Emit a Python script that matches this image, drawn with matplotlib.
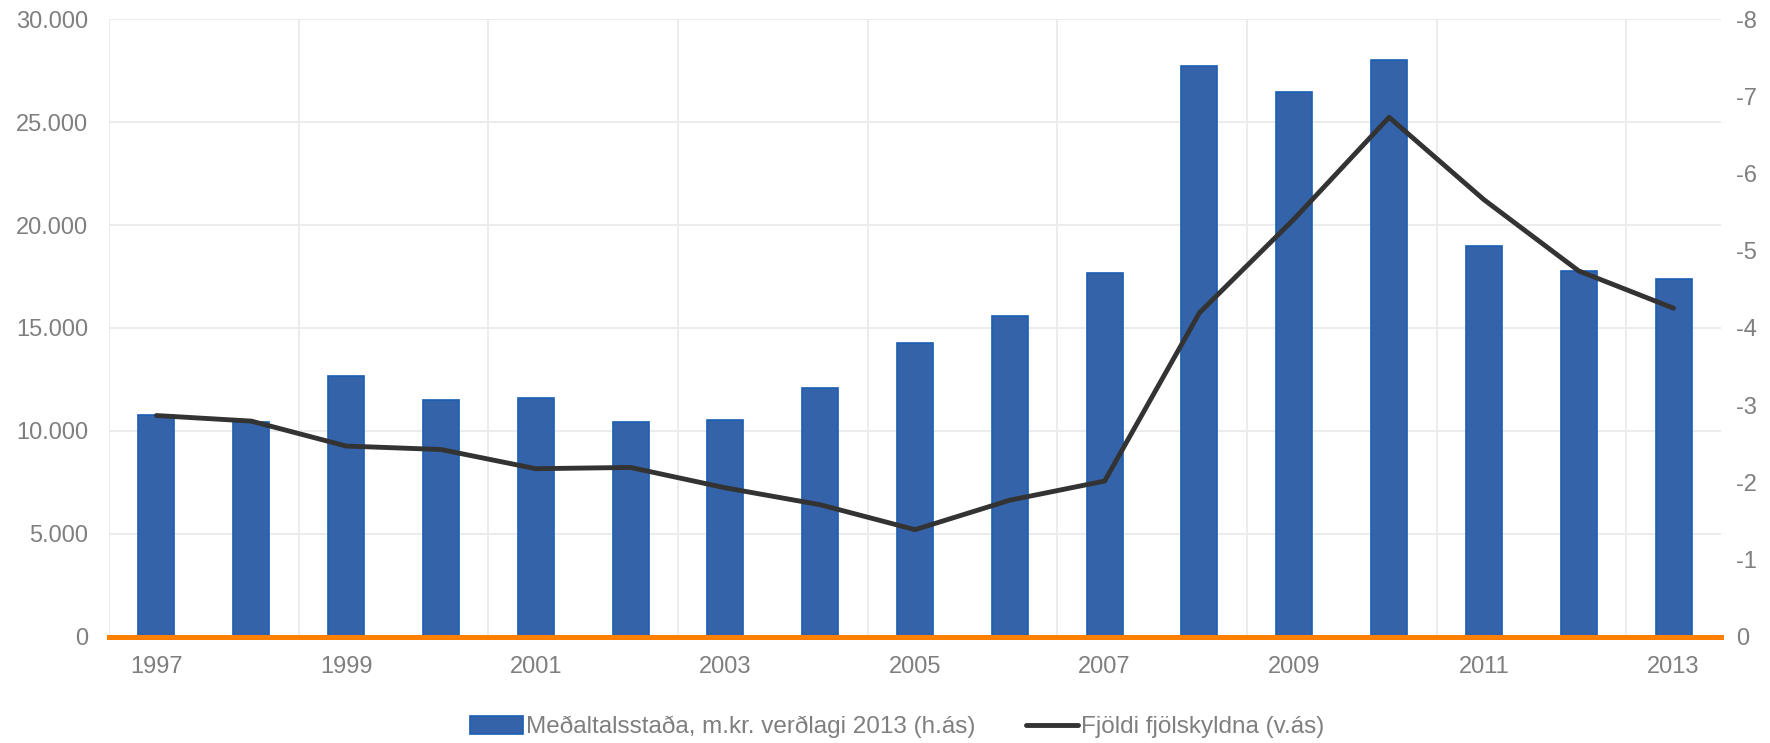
import numpy as np
import matplotlib
matplotlib.use("Agg")
import matplotlib.pyplot as plt
from matplotlib.ticker import FuncFormatter

plt.rcParams['font.family'] = ['Liberation Sans', 'DejaVu Sans']
plt.rcParams['axes.unicode_minus'] = False

years = list(range(1997, 2014))
# Meðaltalsstaða, m.kr. verðlagi 2013 (h.ás)
stada = [-2.87, -2.78, -3.38, -3.07, -3.09, -2.78, -2.81, -3.22, -3.80,
         -4.15, -4.71, -7.39, -7.06, -7.47, -5.06, -4.74, -4.64]
# Fjöldi fjölskyldna (v.ás)
fjoldi = [10750, 10480, 9270, 9100, 8170, 8230, 7240, 6420, 5210,
          6640, 7570, 15740, 20300, 25230, 21230, 17770, 15960]

bar_label = "Meðaltalsstaða, m.kr. verðlagi 2013 (h.ás)"
line_label = "Fjöldi fjölskyldna (v.ás)"

grey = "#7f7f7f"
gridc = "#ececec"
x = np.arange(len(years))

fig = plt.figure(figsize=(17.7, 7.43), dpi=100)
ax = fig.add_axes([0.0616, 0.1427, 0.9107, 0.8317])
ax2 = ax.twinx()

# gridlines on the lower (bar) axis so they stay behind the bars
for k in range(7):
    ax2.axhline(-8 / 6 * k, color=gridc, linewidth=1.4, zorder=0)
for k in np.arange(-0.5, len(years), 2):
    ax2.axvline(k, color=gridc, linewidth=1.4, zorder=0)

# bars on the right (inverted) axis
bars = ax2.bar(x, stada, width=0.38, color="#3463a9", edgecolor="#1a5fb4",
               linewidth=1.2, zorder=2, label=bar_label)
ax2.set_ylim(0, -8)
ax2.set_yticks(np.arange(0, -9, -1))
ax2.yaxis.set_major_formatter(FuncFormatter(lambda v, p: "%d" % v))

# line on the left axis, on top
ax.set_zorder(ax2.get_zorder() + 1)
ax.patch.set_visible(False)
line, = ax.plot(x, fjoldi, color="#333333", linewidth=3.5, zorder=3,
                solid_capstyle="round", label=line_label)
ax.set_ylim(0, 30000)
ax.set_yticks(np.arange(0, 30001, 5000))
ax.yaxis.set_major_formatter(FuncFormatter(lambda v, p: "{:,.0f}".format(v).replace(",", ".")))
ax.axhline(0, color="#ff7f00", linewidth=3.6, zorder=4, clip_on=False)

ax.set_xlim(-0.5, len(years) - 0.5)
ax.set_xticks(x[::2])
ax.set_xticklabels([str(y) for y in years[::2]])

for a in (ax, ax2):
    for s in a.spines.values():
        s.set_visible(False)
    a.tick_params(axis="both", which="both", length=0, labelsize=17, labelcolor=grey)
ax.tick_params(axis="y", pad=15)
ax.tick_params(axis="x", pad=14)
ax2.tick_params(axis="y", pad=11)

fig.legend([bars, line], [bar_label, line_label], loc="center",
           bbox_to_anchor=(0.507, 0.0215), ncol=2, frameon=False,
           fontsize=17.5, labelcolor=grey, handlelength=2.15, handleheight=0.75,
           handletextpad=0.12, columnspacing=2.1)

fig.savefig("out.png", dpi=100)
